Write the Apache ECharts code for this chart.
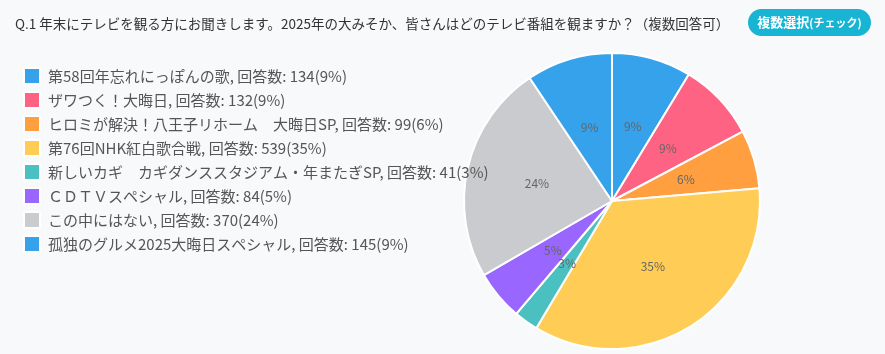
<!DOCTYPE html>
<html>
<head>
<meta charset="utf-8">
<script src="https://cdn.jsdelivr.net/npm/echarts@6/dist/echarts.min.js"></script>
<style>
  html, body { margin: 0; padding: 0; background: #f8f9fb; }
  #chart { width: 885px; height: 354px; }
</style>
</head>
<body>
<div id="chart"></div>
<script>
var titleText = 'Q.1 年末にテレビを観る方にお聞きします。2025年の大みそか、皆さんはどのテレビ番組を観ますか？（複数回答可）';
var badgeMain = '複数選択';
var badgeSub = '(チェック)';

var names = [
  '第58回年忘れにっぽんの歌',
  'ザワつく！大晦日',
  'ヒロミが解決！八王子リホーム　大晦日SP',
  '第76回NHK紅白歌合戦',
  '新しいカギ　カギダンススタジアム・年またぎSP',
  'ＣＤＴＶスペシャル',
  'この中にはない',
  '孤独のグルメ2025大晦日スペシャル'
];
var counts = [134, 132, 99, 539, 41, 84, 370, 145];
var colors = ['#36a2eb', '#ff6384', '#ff9f40', '#ffcd56', '#4bc0c0', '#9966ff', '#c9cbcf', '#36a2eb'];

var total = 0;
for (var i = 0; i < counts.length; i++) total += counts[i];
var pctOf = function(v) { return Math.round(v / total * 100); };

var pieData = [];
for (var i = 0; i < names.length; i++) {
  pieData.push({ name: names[i], value: counts[i], itemStyle: { color: colors[i] } });
}

var chart = echarts.init(document.getElementById('chart'));
var font = '"Noto Sans CJK JP", "Noto Sans", sans-serif';

var option = {
  backgroundColor: '#f8f9fb',
  animation: false,
  textStyle: { fontFamily: font },
  title: {
    text: titleText,
    left: 10,
    top: 12,
    textStyle: { fontSize: 13.5, fontWeight: 'normal', color: '#333', fontFamily: font }
  },
  graphic: [{
    type: 'group',
    left: 748,
    top: 9,
    children: [{
      type: 'rect',
      shape: { x: 0, y: 0, width: 123, height: 27, r: 13.5 },
      style: { fill: '#17b5d3' }
    }, {
      type: 'text',
      x: 61.5,
      y: 13.5,
      style: {
        text: '{a|' + badgeMain + '}{b|' + badgeSub + '}',
        align: 'center',
        verticalAlign: 'middle',
        rich: {
          a: { fill: '#fff', fontSize: 13, fontWeight: 'bold', fontFamily: font },
          b: { fill: '#fff', fontSize: 11, fontWeight: 'bold', fontFamily: font }
        }
      }
    }]
  }],
  legend: {
    orient: 'vertical',
    left: 21,
    top: 65,
    icon: 'rect',
    itemWidth: 16,
    itemHeight: 16,
    itemGap: 6,
    padding: 2,
    textStyle: { fontSize: 15, color: '#555', padding: [0, 0, 0, 3] },
    formatter: function(name) {
      var idx = names.indexOf(name);
      return name + ', 回答数: ' + counts[idx] + '(' + pctOf(counts[idx]) + '%)';
    },
    data: names
  },
  series: [{
    type: 'pie',
    center: [612, 201],
    radius: [0, 148],
    startAngle: 90,
    clockwise: true,
    avoidLabelOverlap: false,
    itemStyle: { borderColor: '#fff', borderWidth: 2 },
    label: {
      position: 'inside',
      fontSize: 12,
      color: '#666',
      formatter: function(p) { return pctOf(p.value) + '%'; }
    },
    labelLine: { show: false },
    emphasis: { disabled: true },
    data: pieData
  }]
};

chart.setOption(option);
</script>
</body>
</html>
